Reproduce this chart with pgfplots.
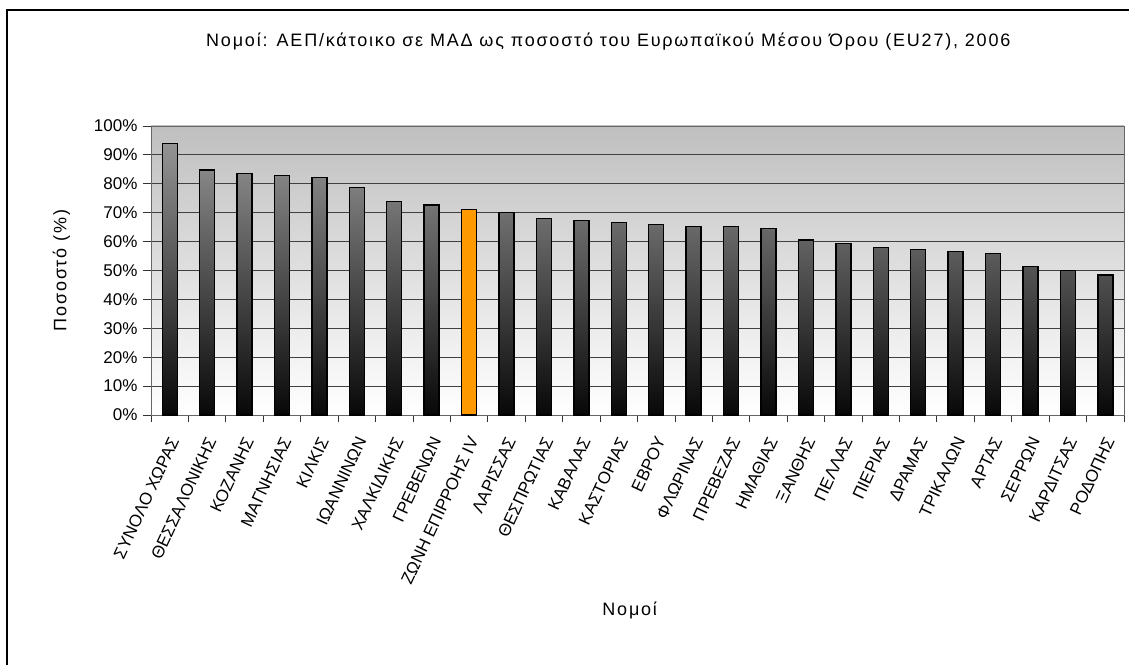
\documentclass[border=0pt]{standalone}
\usepackage{pgfplots}
\pgfplotsset{compat=1.18}
\usepackage{fontspec}
\setmainfont{Liberation Sans}
\newfontfamily\spacedfont[LetterSpace=10]{Liberation Sans}
\definecolor{barorange}{HTML}{FF9900}
\newcommand\fs{\fontsize{17pt}{20pt}\selectfont}
\newcommand\ts{\spacedfont\fontsize{18pt}{21pt}\selectfont}
\begin{document}
\begin{tikzpicture}
\path[use as bounding box] (0pt,0pt) rectangle (1129pt,664pt);
\draw[line width=1.2pt] (7pt,-10pt) -- (7pt,654pt) -- (1140pt,654pt);
\begin{axis}[
  at={(151pt,249pt)}, anchor=south west,
  scale only axis, width=973pt, height=289pt,
  xmin=-0.5, xmax=25.5, ymin=0, ymax=100,
  axis background/.style={top color=black!25, bottom color=white},
  axis line style={draw=black!60, line width=0.8pt},
  tick align=outside,
  xtick={0,...,25},
  major x tick style={draw=none},
  minor xtick={-0.5,0.5,...,25.5},
  minor x tick style={black!80, line width=0.8pt},
  minor tick length=7pt,
  ytick={0,10,...,100},
  major tick length=8pt,
  y tick style={black!80, line width=0.8pt},
  xtick pos=bottom, ytick pos=left,
  ymajorgrids,
  major grid style={black!75, line width=0.9pt},
  yticklabel={\pgfmathprintnumber{\tick}\%},
  /pgf/number format/assume math mode=true,
  ticklabel style={font=\fs},
  yticklabel style={xshift=-2pt},
  xticklabels={ΣΥΝΟΛΟ ΧΩΡΑΣ, ΘΕΣΣΑΛΟΝΙΚΗΣ, ΚΟΖΑΝΗΣ, ΜΑΓΝΗΣΙΑΣ, ΚΙΛΚΙΣ, ΙΩΑΝΝΙΝΩΝ, ΧΑΛΚΙΔΙΚΗΣ, ΓΡΕΒΕΝΩΝ, ΖΩΝΗ ΕΠΙΡΡΟΗΣ IV, ΛΑΡΙΣΣΑΣ, ΘΕΣΠΡΩΤΙΑΣ, ΚΑΒΑΛΑΣ, ΚΑΣΤΟΡΙΑΣ, ΕΒΡΟΥ, ΦΛΩΡΙΝΑΣ, ΠΡΕΒΕΖΑΣ, ΗΜΑΘΙΑΣ, ΞΑΝΘΗΣ, ΠΕΛΛΑΣ, ΠΙΕΡΙΑΣ, ΔΡΑΜΑΣ, ΤΡΙΚΑΛΩΝ, ΑΡΤΑΣ, ΣΕΡΡΩΝ, ΚΑΡΔΙΤΣΑΣ, ΡΟΔΟΠΗΣ},
  xticklabel style={xshift=5pt, yshift=-14pt, rotate=65, anchor=east, inner sep=1pt},
  title={Νομοί: ΑΕΠ/κάτοικο σε ΜΑΔ ως ποσοστό του Ευρωπαϊκού Μέσου Όρου (EU27), 2006},
  title style={font=\ts, at={(rel axis cs:0.47,1.273)}, anchor=center},
  xlabel={Νομοί},
  xlabel style={font=\ts, at={(rel axis cs:0.492,-0.675)}, anchor=center},
  ylabel={Ποσοστό (\%)},
  ylabel style={font=\ts, at={(rel axis cs:-0.092,0.5)}, anchor=center, rotate=0},
  ybar, bar width=15pt,
]
\addplot[ybar, bar shift=0pt, draw=black, line width=1.4pt,
  top color=black!42, middle color=black!84, bottom color=black!97]
  coordinates {(0,94.0) (1,84.8) (2,83.5) (3,82.8) (4,82.1) (5,78.8) (6,73.9) (7,72.6)
   (9,70.0) (10,67.9) (11,67.4) (12,66.7) (13,65.9) (14,65.2) (15,65.2) (16,64.6)
   (17,60.6) (18,59.3) (19,57.9) (20,57.2) (21,56.6) (22,55.8) (23,51.3) (24,49.9) (25,48.5)};
\addplot[ybar, bar shift=0pt, draw=black, line width=1.4pt, fill=barorange]
  coordinates {(8,71.2)};
\end{axis}
\end{tikzpicture}
\end{document}
